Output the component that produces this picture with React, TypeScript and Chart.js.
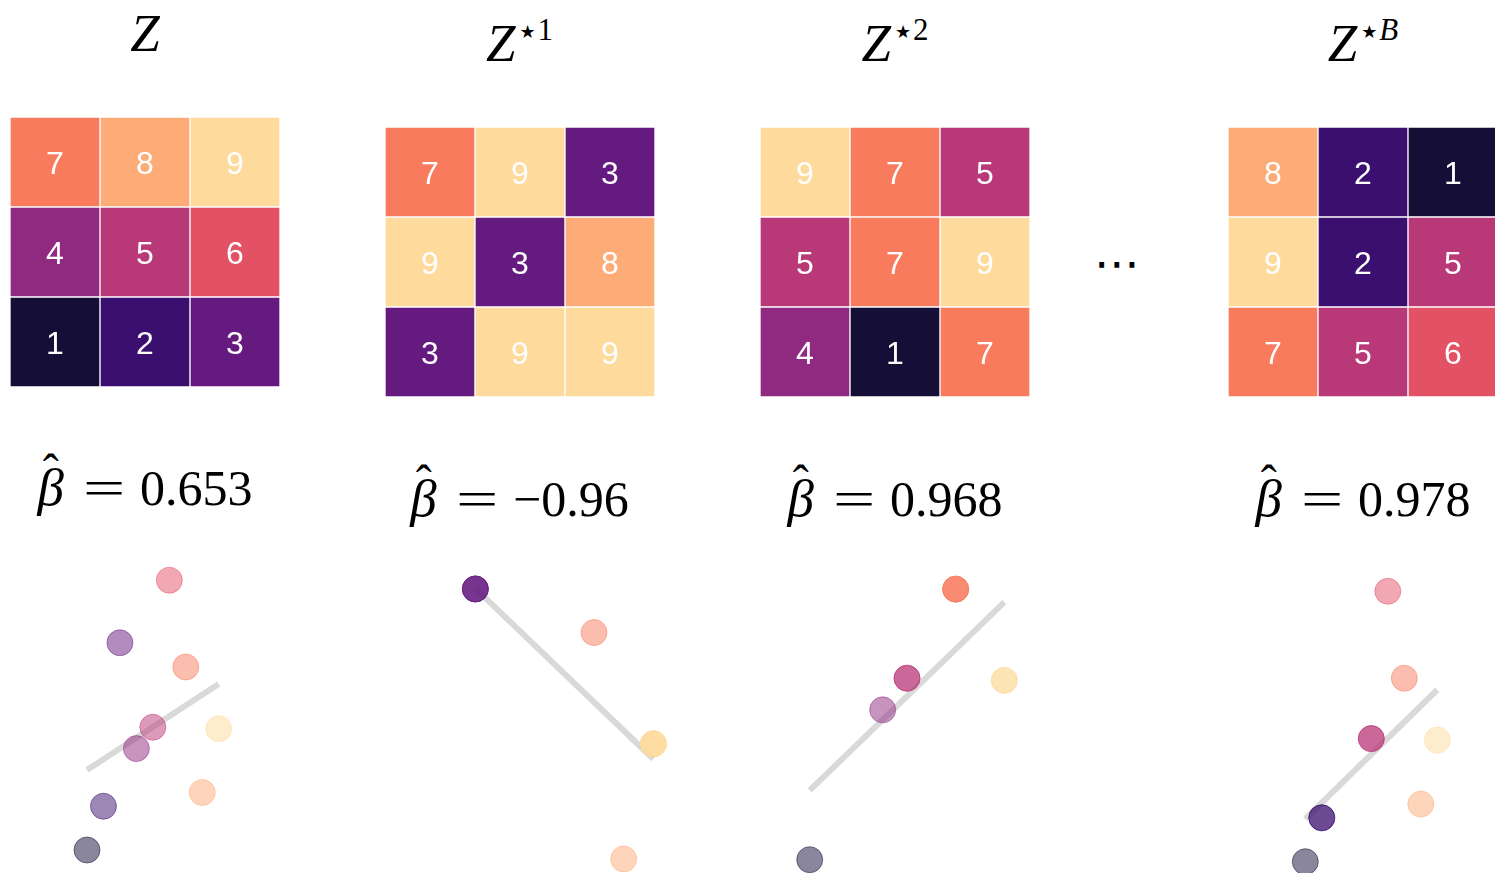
import React, { useEffect, useRef } from 'react';
import { Chart, registerables } from 'chart.js';

Chart.register(...registerables);

// ---------- data ----------
const titleSuperscripts = ['', '1', '2', 'B'];
const betaLabels = ['0.653', '\u22120.96', '0.968', '0.978'];

// grid values, read row by row from the top
const gridZ = [7, 8, 9, 4, 5, 6, 1, 2, 3];
const gridZ1 = [7, 9, 3, 9, 3, 8, 3, 9, 9];
const gridZ2 = [9, 7, 5, 5, 7, 9, 4, 1, 7];
const gridZB = [8, 2, 1, 9, 2, 5, 7, 5, 6];

// paired response value for each level 1..9
const pairedY = [0, 2.66, 12.59, 6.16, 7.46, 16.39, 11.12, 3.49, 7.37];

// magma-like colours for levels 1..9
const levelColors = ['#150e37', '#3b0f70', '#651a80', '#8f2a80', '#b93877', '#e35165', '#f87b5e', '#fdac78', '#fedb9c'];

// fitted line end points per panel, [x, y]
const fitZ = [[1, 4.86], [9, 10.08]];
const fitZ1 = [[3, 12.61], [9, 6.86]];
const fitZ2 = [[1, 2.85], [9, 10.59]];
const fitZB = [[1, 2.6], [9, 10.42]];

const grids = [gridZ, gridZ1, gridZ2, gridZB];
const fits = [fitZ, fitZ1, fitZ2, fitZB];

// ---------- layout ----------
const gridBoxes = [
  { left: 10, top: 116.5 },
  { left: 384.5, top: 126.5 },
  { left: 760, top: 126.5 },
  { left: 1228, top: 126.5 },
];
const GRID_SIZE = 270;
const panelDy = [-10, 0, 0, 0];

// scatter anchors: pixel of x=1, pixel of y=0, px per unit
const scatterAnchors = [
  { x1: 87, y0: 850, s: 16.46, left: 0 },
  { x1: 416.0, y0: 962.5, s: 29.67, left: 375 },
  { x1: 809.7, y0: 859.7, s: 24.33, left: 750 },
  { x1: 1305.3, y0: 861.7, s: 16.5, left: 1125 },
];
const SC_TOP = 540;
const SC_W = 370;
const SC_H = 333;

function hexA(hex: string, a: number) {
  const r = parseInt(hex.slice(1, 3), 16);
  const g = parseInt(hex.slice(3, 5), 16);
  const b = parseInt(hex.slice(5, 7), 16);
  return `rgba(${r},${g},${b},${a})`;
}

const cellTextPlugin = {
  id: 'cellText',
  afterDatasetsDraw(chart: any) {
    const ctx = chart.ctx;
    ctx.save();
    ctx.fillStyle = '#ffffff';
    ctx.font = '32px "Liberation Sans", Arial, Helvetica, sans-serif';
    ctx.textAlign = 'center';
    ctx.textBaseline = 'alphabetic';
    chart.data.datasets.forEach((ds: any, di: number) => {
      const meta = chart.getDatasetMeta(di);
      meta.data.forEach((el: any, j: number) => {
        const p = el.getProps(['x', 'y', 'base'], true);
        const cy = (p.y + p.base) / 2;
        ctx.fillText(String(ds.cellValues[j]), p.x, cy + 11.5);
      });
    });
    ctx.restore();
  },
};

function gridConfig(values: number[]): any {
  const rows = [values.slice(0, 3), values.slice(3, 6), values.slice(6, 9)];
  const datasets = [2, 1, 0].map((r) => ({
    data: [1, 1, 1],
    cellValues: rows[r],
    backgroundColor: rows[r].map((v) => levelColors[v - 1]),
    borderColor: '#ffffff',
    borderWidth: 1,
    borderSkipped: false,
    barPercentage: 1,
    categoryPercentage: 1,
  }));
  return {
    type: 'bar',
    data: { labels: ['a', 'b', 'c'], datasets },
    options: {
      animation: false,
      responsive: true,
      maintainAspectRatio: false,
      layout: { padding: 0, autoPadding: false },
      plugins: { legend: { display: false }, tooltip: { enabled: false } },
      scales: {
        x: { display: false, stacked: true },
        y: { display: false, stacked: true, min: 0, max: 3 },
      },
    },
    plugins: [cellTextPlugin],
  };
}

function scatterConfig(i: number): any {
  const a = scatterAnchors[i];
  const values = grids[i];
  const xmin = 1 + (a.left - a.x1) / a.s;
  const xmax = xmin + SC_W / a.s;
  const ymax = (a.y0 - SC_TOP) / a.s;
  const ymin = ymax - SC_H / a.s;
  const pts = values.map((v) => ({ x: v, y: pairedY[v - 1] }));
  const cols = values.map((v) => hexA(levelColors[v - 1], 0.5));
  return {
    type: 'scatter',
    data: {
      datasets: [
        {
          data: pts,
          backgroundColor: cols,
          borderColor: cols,
          borderWidth: 1,
          pointRadius: 13,
          pointHoverRadius: 13,
          clip: false,
        },
        {
          type: 'line',
          data: fits[i].map((p) => ({ x: p[0], y: p[1] })),
          borderColor: '#d9d9d9',
          borderWidth: 6,
          pointRadius: 0,
          fill: false,
          borderCapStyle: 'butt',
          clip: false,
        },
      ],
    },
    options: {
      animation: false,
      responsive: true,
      maintainAspectRatio: false,
      layout: { padding: 0, autoPadding: false },
      plugins: { legend: { display: false }, tooltip: { enabled: false } },
      scales: {
        x: { type: 'linear', display: false, min: xmin, max: xmax },
        y: { type: 'linear', display: false, min: ymin, max: ymax },
      },
    },
  };
}

function ChartBox({ style, make }: { style: React.CSSProperties; make: () => any }) {
  const ref = useRef<HTMLCanvasElement | null>(null);
  useEffect(() => {
    if (!ref.current) return;
    const c = new Chart(ref.current, make());
    return () => c.destroy();
  }, []);
  return (
    <div style={{ position: 'absolute', ...style }}>
      <canvas ref={ref} />
    </div>
  );
}

const SERIF = '"Liberation Serif", "Times New Roman", serif';

function Title({ i }: { i: number }) {
  const g = gridBoxes[i];
  const cx = g.left + GRID_SIZE / 2;
  const sup = titleSuperscripts[i];
  return (
    <div
      style={{
        position: 'absolute',
        left: cx - 150,
        width: 300,
        top: 12.5 + panelDy[i],
        textAlign: 'center',
        fontFamily: SERIF,
        fontSize: 53,
        lineHeight: '60px',
        color: '#000',
        whiteSpace: 'nowrap',
      }}
    >
      <span style={{ fontStyle: 'italic' }}>Z</span>
      {sup && (
        <span style={{ fontSize: 31, lineHeight: 1, position: 'relative', top: -21, marginLeft: 4 }}>
          <span style={{ fontFamily: '"DejaVu Sans", sans-serif', fontSize: 18, position: 'relative', top: -2 }}>
            {'\u2605'}
          </span>
          <span style={{ fontStyle: sup === 'B' ? 'italic' : 'normal', marginLeft: 2 }}>{sup}</span>
        </span>
      )}
    </div>
  );
}

function BetaLabel({ i }: { i: number }) {
  const g = gridBoxes[i];
  const cx = g.left + GRID_SIZE / 2;
  return (
    <div
      style={{
        position: 'absolute',
        left: cx - 150,
        width: 300,
        top: 473 + (i === 0 ? -11 : 0),
        textAlign: 'center',
        fontFamily: SERIF,
        fontSize: 50,
        lineHeight: '50px',
        color: '#000',
        whiteSpace: 'nowrap',
      }}
    >
      <span style={{ fontStyle: 'italic', fontSize: 53 }}>{'\u03b2'}</span>
      <span
        style={{
          display: 'inline-block',
          width: 0,
          position: 'relative',
          left: -21,
          top: -17,
          fontSize: 48,
        }}
      >
        {'\u02c6'}
      </span>
      <span
        style={{
          display: 'inline-block',
          transform: 'scaleX(1.5)',
          margin: '0 22px 0 26px',
        }}
      >
        =
      </span>
      <span>{betaLabels[i]}</span>
    </div>
  );
}

export default function App() {
  return (
    <div
      style={{
        position: 'fixed',
        left: 0,
        top: 0,
        width: 1495,
        height: 873,
        background: '#ffffff',
        overflow: 'hidden',
      }}
    >
      {grids.map((vals, i) => (
        <ChartBox
          key={'g' + i}
          style={{ left: gridBoxes[i].left, top: gridBoxes[i].top, width: GRID_SIZE, height: GRID_SIZE }}
          make={() => gridConfig(vals)}
        />
      ))}
      {grids.map((_, i) => (
        <ChartBox
          key={'s' + i}
          style={{ left: scatterAnchors[i].left, top: SC_TOP, width: SC_W, height: SC_H }}
          make={() => scatterConfig(i)}
        />
      ))}
      {grids.map((_, i) => (
        <Title key={'t' + i} i={i} />
      ))}
      {grids.map((_, i) => (
        <BetaLabel key={'b' + i} i={i} />
      ))}
      <div
        style={{
          position: 'absolute',
          left: 1067,
          width: 100,
          top: 238,
          textAlign: 'center',
          fontFamily: '"DejaVu Sans", sans-serif',
          fontSize: 46,
          lineHeight: '50px',
          color: '#000',
        }}
      >
        {'\u22ef'}
      </div>
    </div>
  );
}
